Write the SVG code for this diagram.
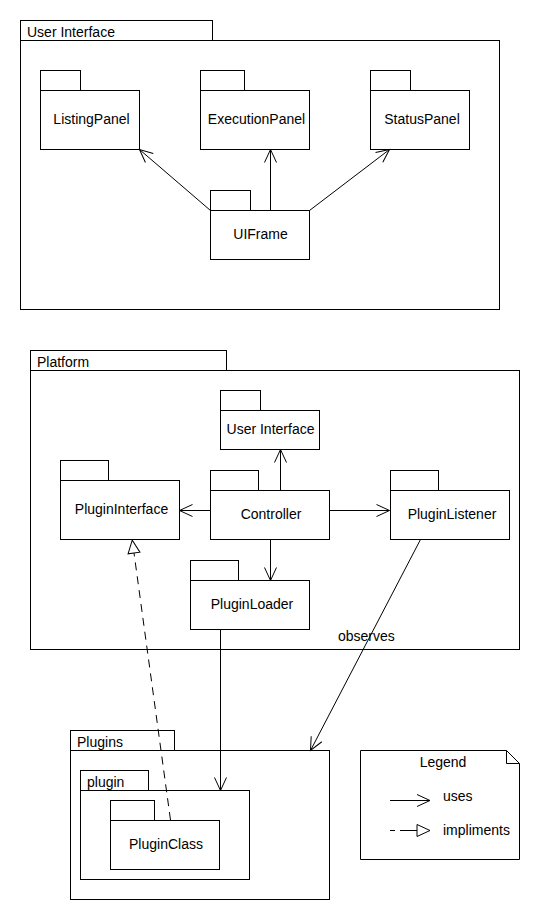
<svg xmlns="http://www.w3.org/2000/svg" width="540" height="920" viewBox="0 0 540 920">
<style>
  .box { fill: #fff; stroke: #000; stroke-width: 1; }
  .ln { fill: none; stroke: #000; stroke-width: 1; }
  .dash { fill: none; stroke: #000; stroke-width: 1; stroke-dasharray: 8 6; }
  text { font-family: "Liberation Sans", Arial, sans-serif; font-size: 14px; fill: #000; }
  .c { text-anchor: middle; }
</style>
<defs>
  <marker id="open" markerUnits="userSpaceOnUse" markerWidth="20" markerHeight="20" refX="0" refY="0" orient="auto" overflow="visible">
    <path d="M-13,-6 L0,0 L-13,6" fill="none" stroke="#000" stroke-width="1"/>
  </marker>
  <marker id="tri" markerUnits="userSpaceOnUse" markerWidth="20" markerHeight="20" refX="0" refY="0" orient="auto" overflow="visible">
    <path d="M0,-6 L13,0 L0,6 Z" fill="#fff" stroke="#000" stroke-width="1" stroke-dasharray="none"/>
  </marker>
</defs>
<rect width="540" height="920" fill="#fff"/>

<g id="pkg-user-interface">
  <rect class="box" x="20.5" y="20.5" width="192" height="20"/>
  <rect class="box" x="20.5" y="40.5" width="479" height="269"/>
  <text x="27" y="37">User Interface</text>
</g>
<g id="node-listing-panel">
  <rect class="box" x="40.5" y="70.5" width="40" height="20"/>
  <rect class="box" x="40.5" y="90.5" width="99" height="59"/>
  <text class="c" x="91.5" y="124">ListingPanel</text>
</g>
<g id="node-execution-panel">
  <rect class="box" x="200.5" y="70.5" width="44" height="20"/>
  <rect class="box" x="200.5" y="90.5" width="109" height="59"/>
  <text class="c" x="256.5" y="124">ExecutionPanel</text>
</g>
<g id="node-status-panel">
  <rect class="box" x="370.5" y="70.5" width="40" height="20"/>
  <rect class="box" x="370.5" y="90.5" width="99" height="59"/>
  <text class="c" x="422" y="124">StatusPanel</text>
</g>
<g id="node-uiframe">
  <rect class="box" x="210.5" y="190.5" width="40" height="20"/>
  <rect class="box" x="210.5" y="210.5" width="99" height="49"/>
  <text class="c" x="260.5" y="239">UIFrame</text>
</g>

<g id="pkg-platform">
  <rect class="box" x="30.5" y="350.5" width="196" height="20"/>
  <rect class="box" x="30.5" y="370.5" width="489" height="279"/>
  <text x="37" y="367">Platform</text>
</g>
<g id="node-platform-user-interface">
  <rect class="box" x="220.5" y="390.5" width="40" height="20"/>
  <rect class="box" x="220.5" y="410.5" width="99" height="39"/>
  <text class="c" x="270.5" y="434">User Interface</text>
</g>
<g id="node-plugin-interface">
  <rect class="box" x="60.5" y="460.5" width="48" height="20"/>
  <rect class="box" x="60.5" y="480.5" width="119" height="59"/>
  <text class="c" x="121.5" y="514">PluginInterface</text>
</g>
<g id="node-controller">
  <rect class="box" x="210.5" y="470.5" width="48" height="20"/>
  <rect class="box" x="210.5" y="490.5" width="119" height="49"/>
  <text class="c" x="271" y="519">Controller</text>
</g>
<g id="node-plugin-listener">
  <rect class="box" x="390.5" y="470.5" width="48" height="20"/>
  <rect class="box" x="390.5" y="490.5" width="119" height="49"/>
  <text class="c" x="452" y="519">PluginListener</text>
</g>
<g id="node-plugin-loader">
  <rect class="box" x="190.5" y="560.5" width="48" height="20"/>
  <rect class="box" x="190.5" y="580.5" width="119" height="49"/>
  <text class="c" x="252" y="609">PluginLoader</text>
</g>

<g id="pkg-plugins">
  <rect class="box" x="70.5" y="730.5" width="104" height="20"/>
  <rect class="box" x="70.5" y="750.5" width="259" height="149"/>
  <text x="77" y="747">Plugins</text>
</g>
<g id="pkg-plugin">
  <rect class="box" x="80.5" y="770.5" width="68" height="20"/>
  <rect class="box" x="80.5" y="790.5" width="169" height="89"/>
  <text x="87" y="787">plugin</text>
</g>
<g id="node-plugin-class">
  <rect class="box" x="110.5" y="800.5" width="44" height="20"/>
  <rect class="box" x="110.5" y="820.5" width="109" height="49"/>
  <text class="c" x="166" y="849">PluginClass</text>
</g>

<g id="legend">
  <path class="box" d="M360.5,750.5 H506.5 L519.5,763.5 V859.5 H360.5 Z"/>
  <path class="ln" d="M506.5,750.5 V763.5 H519.5"/>
  <text class="c" x="443" y="767">Legend</text>
  <line class="ln" x1="390" y1="800.5" x2="430" y2="800.5" marker-end="url(#open)"/>
  <text x="443" y="801">uses</text>
  <line class="ln" x1="390" y1="830.5" x2="395" y2="830.5"/>
  <line class="ln" x1="400" y1="830.5" x2="417" y2="830.5" marker-end="url(#tri)"/>
  <text x="443" y="835">impliments</text>
</g>

<g id="connectors">
  <path class="ln" d="M210.5,210.5 L139.5,149.5" marker-end="url(#open)"/>
  <path class="ln" d="M270.5,210 V149.5" marker-end="url(#open)"/>
  <path class="ln" d="M309.5,210.5 L389.5,149.5" marker-end="url(#open)"/>
  <path class="ln" d="M280.5,490 V449.5" marker-end="url(#open)"/>
  <path class="ln" d="M210,510.5 H179.5" marker-end="url(#open)"/>
  <path class="ln" d="M329,510.5 H389.5" marker-end="url(#open)"/>
  <path class="ln" d="M270.5,539 V580.5" marker-end="url(#open)"/>
  <path class="ln" d="M420.5,539.5 L310.5,750.5" marker-end="url(#open)"/>
  <path class="ln" d="M220.5,629 V790.5" marker-end="url(#open)"/>
  <path class="dash" d="M170.5,820 L134,553" marker-end="url(#tri)"/>
  <text x="338" y="641">observes</text>
</g>
</svg>
